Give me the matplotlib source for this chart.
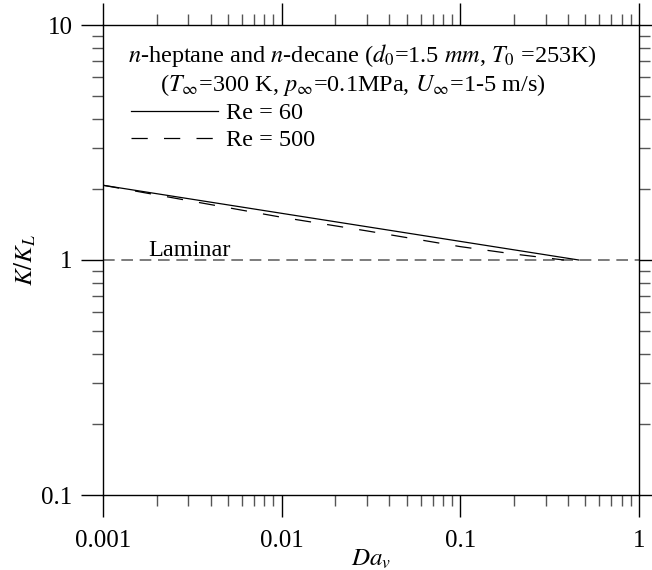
import numpy as np
import matplotlib.pyplot as plt
from matplotlib.ticker import LogLocator, NullFormatter, FixedLocator, FixedFormatter

plt.rcParams['font.family'] = ['Liberation Serif', 'DejaVu Serif']
plt.rcParams['mathtext.fontset'] = 'stix'

da_re60 = [0.001, 0.46]
k_re60 = [2.08, 1.0]
da_re500 = [0.001, 0.003, 0.01, 0.03, 0.1, 0.2, 0.38]
k_re500 = [2.08, 1.79, 1.52, 1.33, 1.14, 1.06, 1.0]
laminar_k = 1.0

xticks = [0.001, 0.01, 0.1, 1]
xticklabels = ['0.001', '0.01', '0.1', '1']
yticks = [0.1, 1, 10]
yticklabels = ['0.1', '1', '10']

fig = plt.figure(figsize=(6.52, 5.70), dpi=100)
ax = fig.add_axes([103/652, 75/570, 536/652, 470/570])

ax.axhline(laminar_k, color='#666666', lw=1.2, ls=(0, (7, 4)))
ax.plot(da_re60, k_re60, color='black', lw=0.9, label='Re = 60')
ax.plot(da_re500, k_re500, color='black', lw=0.9, ls=(0, (13, 13)), label='Re = 500')

ax.set_xscale('log')
ax.set_yscale('log')
ax.set_xlim(0.001, 1)
ax.set_ylim(0.1, 10)

ax.xaxis.set_major_locator(FixedLocator(xticks))
ax.xaxis.set_major_formatter(FixedFormatter(xticklabels))
ax.yaxis.set_major_locator(FixedLocator(yticks))
ax.yaxis.set_major_formatter(FixedFormatter(yticklabels))
for a in (ax.xaxis, ax.yaxis):
    a.set_minor_locator(LogLocator(base=10, subs=np.arange(2, 10)))
    a.set_minor_formatter(NullFormatter())

ax.tick_params(which='both', direction='out', top=True, right=True, labelsize=18)
ax.tick_params(which='major', length=16, width=1.0, color='black')
ax.tick_params(which='minor', length=8, width=1.0, color='#555555')
ax.tick_params(axis='x', pad=9)
ax.tick_params(axis='y', pad=6)
for s in ax.spines.values():
    s.set_linewidth(1.0)

ax.set_xlabel('$Da_v$', fontsize=18, labelpad=-3)
ax.set_ylabel('$K/K_L$', fontsize=18, labelpad=2)

fs = 17.5
ax.text(0.047, 0.935, '$n$-heptane and $n$-decane ($d_{\\mathit{0}}$=1.5 $mm$, $T_{\\mathit{0}}$ =253K)',
        transform=ax.transAxes, fontsize=fs, va='center', ha='left')
ax.text(0.107, 0.872, '($T_\\infty$=300 K, $p_\\infty$=0.1MPa, $U_\\infty$=1-5 m/s)',
        transform=ax.transAxes, fontsize=fs, va='center', ha='left')
ax.text(0.085, 0.498, 'Laminar', transform=ax.transAxes, fontsize=fs, va='bottom', ha='left')

ax.legend(loc='upper left', bbox_to_anchor=(0.02, 0.872), frameon=False, fontsize=fs,
          handlelength=3.6, handletextpad=0.3, labelspacing=0.2, borderpad=0.2)

fig.savefig('out.png', dpi=100)
